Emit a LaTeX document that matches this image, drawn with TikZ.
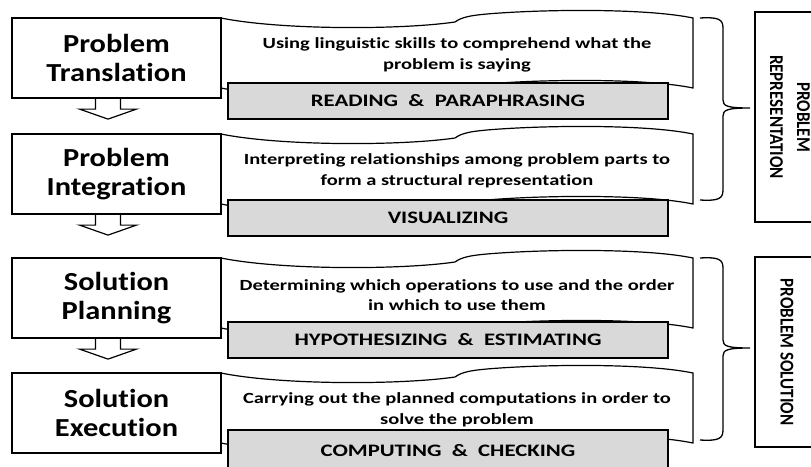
\documentclass[tikz,border=0pt]{standalone}
\usepackage{fontspec}
\setmainfont{Carlito}
\newfontfamily\boxfont{Carlito}[FakeStretch=1.17, Ligatures=NoCommon]
\newfontfamily\descfont{Carlito}[FakeStretch=1.32, Ligatures=NoCommon]
\newfontfamily\greyfont{Carlito}[FakeStretch=1.3, Ligatures=NoCommon]
\newfontfamily\plainfont{Carlito}[Ligatures=NoCommon]
\usetikzlibrary{calc}
\definecolor{greyfill}{HTML}{D9D9D9}
\tikzset{
  stepbox/.style={draw=black, line width=2.2pt, fill=white, minimum width=209pt, minimum height=80pt, inner sep=0pt, font=\boxfont\bfseries\fontsize{26}{29}\selectfont, align=center},
  wavebg/.style={draw=black, line width=1.2pt, fill=white},
  desc/.style={font=\descfont\bfseries\fontsize{15.5}{20.5}\selectfont, align=center, inner sep=0pt},
  greybox/.style={draw=black, line width=2.2pt, fill=greyfill, minimum width=440pt, minimum height=36pt, inner sep=0pt, font=\greyfont\bfseries\fontsize{17.5}{20}\selectfont},
  hollow/.style={draw=black, line width=1.2pt, fill=white},
  bracepath/.style={draw=black, line width=1.3pt},
  sidebox/.style={draw=black, line width=2.4pt, fill=white, inner sep=0pt, minimum width=68pt},
  sidetext/.style={rotate=-90, font=\plainfont\bfseries\fontsize{17}{19}\selectfont, inner sep=0pt},
}
\newcommand\wavepath[1]{%
  (221,#1) .. controls (280,#1+12) and (400,#1+12) .. (455,#1+4)
  .. controls (462,#1-1) and (470,#1-3) .. (500,#1-5)
  .. controls (560,#1-9) and (650,#1-9) .. (693,#1)
  -- (693,#1+70)
  .. controls (650,#1+61) and (560,#1+61) .. (500,#1+65)
  .. controls (470,#1+67) and (462,#1+69) .. (455,#1+74)
  .. controls (400,#1+82) and (280,#1+82) .. (221,#1+70) -- cycle}
% #1 top, #2 name, #3 title, #4 description, #5 grey label, #6 grey centre, #7 grey height
\newcommand\steprow[7]{%
  \path[wavebg] \wavepath{#1};
  \node[stepbox] (#2) at (116.5,#1+40) {#3};
  \node[desc] (#2d) at (457,#1+37) {#4};
  \node[greybox, minimum height=#7] (#2g) at (448,#6) {#5};
}
\newcommand\hollowarrow[1]{%
  \path[hollow] ($(#1.south)+(-21,0)$) -- ++(0,10) -- ++(-16,0) -- ($(#1.south)+(-8.5,20)$)
    -- ($(#1.south)+(20,10)$) -- ++(-16,0) -- ($(#1.south)+(4,0)$);
}
\begin{document}
\begin{tikzpicture}[x=1pt,y=-1pt]
\useasboundingbox (0,0) rectangle (811,466);
\clip (0,0) rectangle (811,466);
\fill[white] (0,0) rectangle (811,466);

\steprow{18}{b1}{Problem\\Translation}{Using linguistic skills to comprehend what the\\problem is saying}{READING~~\&~~PARAPHRASING}{101}{36pt}
\steprow{134}{b2}{Problem\\Integration}{Interpreting relationships among problem parts to\\form a structural representation}{VISUALIZING}{218}{36pt}
\steprow{258}{b3}{Solution\\Planning}{Determining which operations to use and the order\\in which to use them}{HYPOTHESIZING~~\&~~ESTIMATING}{340}{36pt}
\steprow{373}{b4}{Solution\\Execution}{Carrying out the planned computations in order to\\solve the problem}{COMPUTING~~\&~~CHECKING}{451}{42pt}

\hollowarrow{b1}
\hollowarrow{b2}
\hollowarrow{b3}

% braces
\path[bracepath] (700,18) .. controls (718,17) and (723,19) .. (723,28) -- (723,100)
  .. controls (723,106) and (727,108) .. (750,108)
  .. controls (727,108) and (723,110) .. (723,116) -- (723,190)
  .. controls (723,199) and (718,201) .. (700,200);
\path[bracepath] (700,258) .. controls (718,257) and (723,259) .. (723,268) -- (723,340)
  .. controls (723,346) and (727,348) .. (750,348)
  .. controls (727,348) and (723,350) .. (723,356) -- (723,430)
  .. controls (723,439) and (718,441) .. (700,440);

% side boxes
\node[sidebox, minimum height=210pt] (rep) at (789,117) {};
\node[sidetext] (reptext) at (788,117)
  {\scalebox{1}[1.15]{\begin{tabular}{@{}c@{}}PROBLEM\\[4.5pt]REPRESENTATION\end{tabular}}};
\node[sidebox, minimum height=190pt] (sol) at (789,352) {};
\node[sidetext] (soltext) at (787,352)
  {\scalebox{1}[1.15]{PROBLEM SOLUTION}};
\end{tikzpicture}
\end{document}
